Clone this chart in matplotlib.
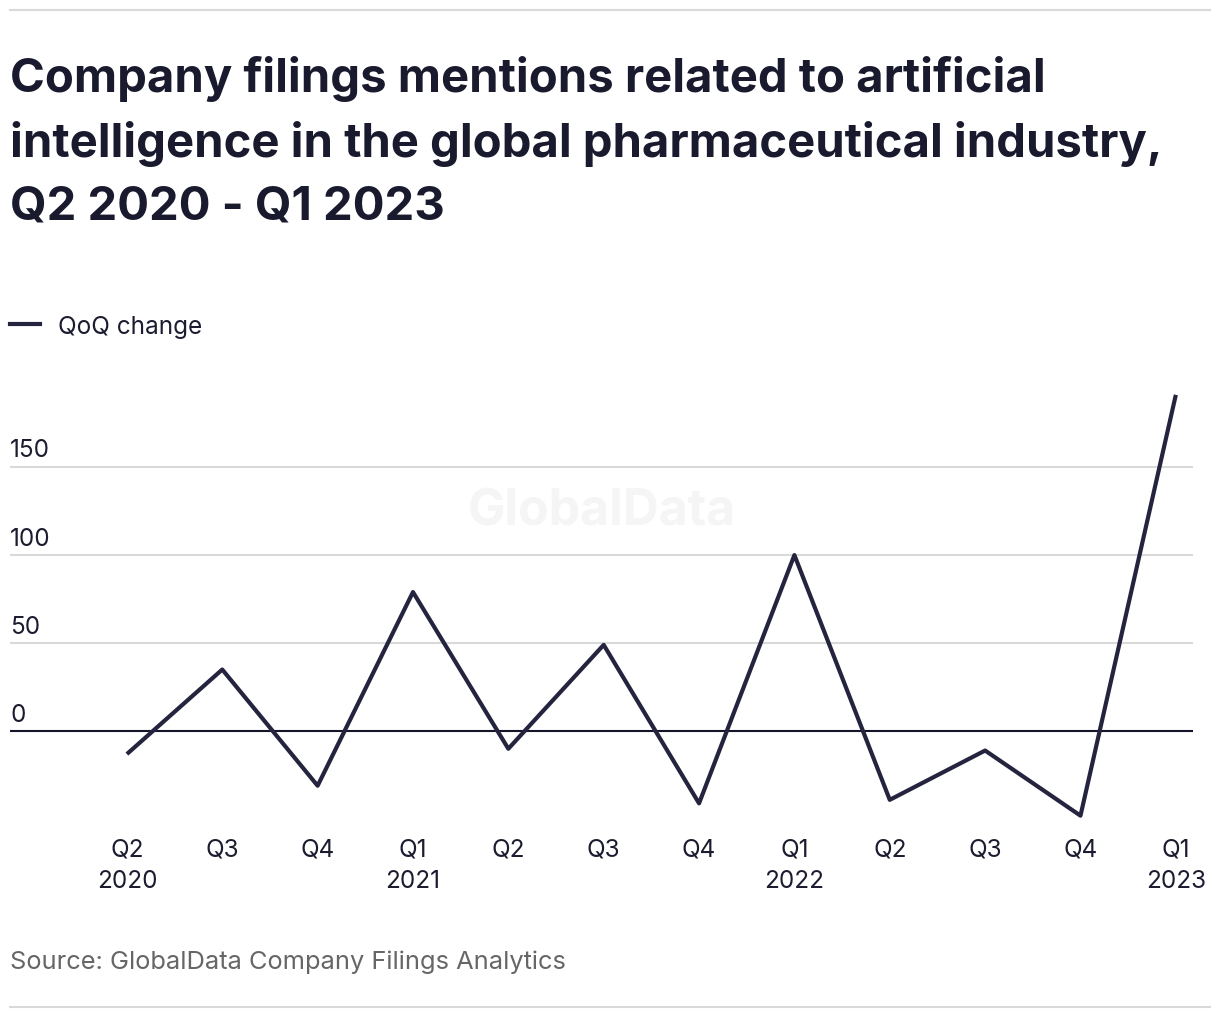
import matplotlib
matplotlib.use("Agg")
import matplotlib.pyplot as plt
from matplotlib.lines import Line2D

quarters = ["Q2\n2020", "Q3", "Q4", "Q1\n2021", "Q2", "Q3", "Q4", "Q1\n2022", "Q2", "Q3", "Q4", "Q1\n2023"]
qoq_change = [-13, 35, -31, 79, -10, 49, -41, 100, -39, -11, -48, 191]
y_ticks = [0, 50, 100, 150]

plt.rcParams['font.family'] = ['Inter', 'DejaVu Sans']

navy = "#25243f"
grid_col = "#d9d9d9"
text_col = "#1c1c30"

fig = plt.figure(figsize=(12.2, 10.2), dpi=100)
ax = fig.add_axes([10 / 1220, 1 - 829 / 1020, (1193 - 10) / 1220, 449 / 1020])

x = list(range(len(quarters)))
ax.plot(x, qoq_change, color=navy, lw=3, solid_capstyle="butt", zorder=3)

ax.set_xlim(-1.226, 11.18)
ax.set_ylim(-55, 200)

# gridlines + labels sitting above them
for t in y_ticks:
    if t == 0:
        ax.axhline(0, color="#15152a", lw=1.5, zorder=2)
    else:
        ax.axhline(t, color=grid_col, lw=1.5, zorder=1)
    ax.annotate(str(t), (0, t), xycoords=ax.get_yaxis_transform(), xytext=(0, 4),
                textcoords="offset points", ha="left", va="bottom", fontsize=17.5, color=text_col)
ax.set_yticks([])

ax.set_xticks(x)
ax.set_xticklabels(quarters, fontsize=17.5, color=text_col, linespacing=1.45)
ax.tick_params(axis="x", length=0, pad=7)
for s in ax.spines.values():
    s.set_visible(False)

ax.text(0.5, 0.705, "GlobalData", transform=ax.transAxes, ha="center", va="center",
        fontsize=36, fontweight="bold", color="#f5f5f5", zorder=0)

fig.text(10 / 1220, 1 - 56 / 1020,
         "Company filings mentions related to artificial\nintelligence in the global pharmaceutical industry,\nQ2 2020 - Q1 2023",
         ha="left", va="top", fontsize=34, fontweight="bold", color="#1a1a2e", linespacing=1.53)

fig.add_artist(Line2D([10 / 1220, 40 / 1220], [1 - 325 / 1020] * 2, color=navy, lw=3))
fig.text(58 / 1220, 1 - 328 / 1020, "QoQ change", ha="left", va="center", fontsize=17.5, color=text_col)

fig.text(10 / 1220, 1 - 962 / 1020, "Source: GlobalData Company Filings Analytics",
         ha="left", va="center", fontsize=18.3, color="#666666")

fig.add_artist(Line2D([10 / 1220, 1210 / 1220], [1 - 11 / 1020] * 2, color=grid_col, lw=1.5))
fig.add_artist(Line2D([10 / 1220, 1210 / 1220], [1 - 1008 / 1020] * 2, color=grid_col, lw=1.5))

fig.savefig("out.png", dpi=100, facecolor="white")
